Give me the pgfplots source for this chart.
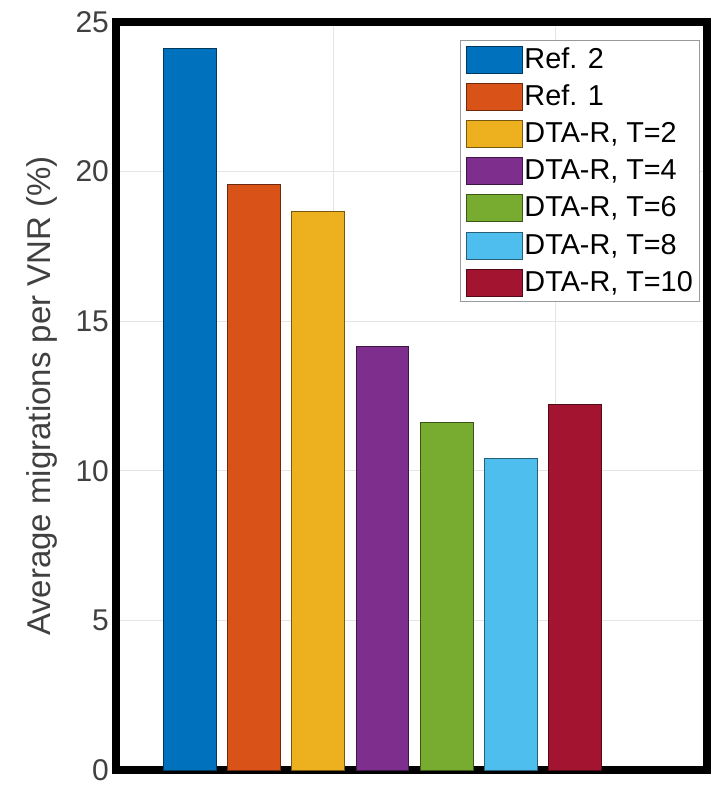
\documentclass[border=0pt]{standalone}
\usepackage{pgfplots}
\pgfplotsset{compat=1.18}
\usepackage{fontspec}
\setmainfont{Liberation Sans}
\usetikzlibrary{calc}
\definecolor{c1}{RGB}{0,114,189}
\definecolor{c2}{RGB}{217,83,25}
\definecolor{c3}{RGB}{237,177,32}
\definecolor{c4}{RGB}{126,47,142}
\definecolor{c5}{RGB}{119,172,48}
\definecolor{c6}{RGB}{77,190,238}
\definecolor{c7}{RGB}{162,20,47}
\begin{document}
\begin{tikzpicture}
\begin{axis}[
  scale only axis,
  width=295.5pt, height=374pt,
  xmin=-0.148, xmax=9.05,
  ymin=0, ymax=25,
  ytick={0,5,10,15,20,25},
  xtick={3.233,6.69},
  xticklabels={},
  grid=major,
  major grid style={line width=0.5pt, color=black!10},
  major tick length=0pt,
  axis line style={line width=4pt},
  ylabel={Average migrations per VNR (\%)},
  ylabel style={font=\fontsize{16.5}{19}\selectfont, color=black!75, xshift=0pt, yshift=2pt},
  yticklabel style={font=\fontsize{15}{17}\selectfont, color=black!75},
  /pgf/number format/assume math mode=true,
  legend cell align=left,
  legend style={at={(1,1)}, anchor=north east, xshift=-3.5pt, yshift=-9pt,
    draw=black!40, line width=0.6pt, font=\fontsize{14.4}{17}\selectfont,
    inner sep=2.5pt, row sep=4.6pt, nodes={inner xsep=0.8pt, inner ysep=1pt}},
  legend image code/.code={\draw[#1] (0cm,-6.75pt) rectangle (28pt,6.75pt);},
  every axis plot/.append style={ybar, bar width=0.82, bar shift=0pt, draw=black!65, line width=0.5pt},
]
\addplot[fill=c1, draw=c1!50!black] coordinates {(1,24.1)};
\addplot[fill=c2, draw=c2!50!black] coordinates {(2,19.57)};
\addplot[fill=c3, draw=c3!50!black] coordinates {(3,18.67)};
\addplot[fill=c4, draw=c4!50!black] coordinates {(4,14.17)};
\addplot[fill=c5, draw=c5!50!black] coordinates {(5,11.63)};
\addplot[fill=c6, draw=c6!50!black] coordinates {(6,10.4)};
\addplot[fill=c7, draw=c7!50!black] coordinates {(7,12.23)};
\legend{Ref. 2, Ref. 1, {DTA-R, T=2}, {DTA-R, T=4}, {DTA-R, T=6}, {DTA-R, T=8}, {DTA-R, T=10}}
\coordinate (bl) at (rel axis cs:0,0);
\coordinate (tr) at (rel axis cs:1,1);
\end{axis}
\pgfresetboundingbox
\path[use as bounding box] ($(bl)+(-58pt,-7.5pt)$) rectangle ($(tr)+(6.5pt,11pt)$);
\end{tikzpicture}
\end{document}
